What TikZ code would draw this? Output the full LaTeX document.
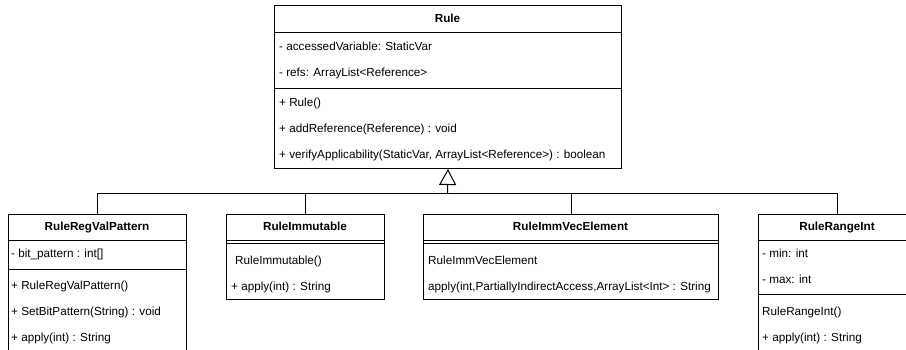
\documentclass[tikz,border=0pt]{standalone}
\usepackage{fontspec}
\setmainfont{Liberation Sans}
\usetikzlibrary{arrows.meta}
\tikzset{
  umlbox/.style={draw=black, line width=1pt, fill=white, inner sep=0pt, anchor=north west},
  hdr/.style={font=\fontsize{11.7}{14}\selectfont\bfseries, inner sep=0pt, text height=8.5pt, text depth=2.5pt},
  member/.style={font=\fontsize{11.7}{14}\selectfont, inner sep=0pt, anchor=west, text height=8.5pt, text depth=2.5pt},
  sep/.style={draw=black, line width=1pt},
  inherit/.style={draw=black, line width=1pt},
}
\begin{document}
\begin{tikzpicture}[x=1pt,y=-1pt]
\useasboundingbox (0,0) rectangle (906,349);
\clip (0,0) rectangle (906,349);

% Rule (superclass)
\node[umlbox, minimum width=347pt, minimum height=163pt] (rule) at (274,5) {};
\node[hdr] (ruleT) at (447.5,19) {Rule};
\draw[sep] (274,32) -- (621,32);
\node[member] (ruleA1) at (279,47) {- accessedVariable: StaticVar};
\node[member] (ruleA2) at (279,73) {- refs: ArrayList<Reference>};
\draw[sep] (274,88) -- (621,88);
\node[member] (ruleM1) at (279,103) {+ Rule()};
\node[member] (ruleM2) at (279,129) {+ addReference(Reference) : void};
\node[member] (ruleM3) at (279,155) {+ verifyApplicability(StaticVar, ArrayList<Reference>) : boolean};

% RuleRegValPattern
\node[umlbox, minimum width=178pt, minimum height=160pt] (rrvp) at (8,214) {};
\node[hdr] (rrvpT) at (97,227) {RuleRegValPattern};
\draw[sep] (8,240) -- (186,240);
\node[member] (rrvpA1) at (11,254) {- bit\_pattern : int[]};
\draw[sep] (8,269) -- (186,269);
\node[member] (rrvpM1) at (11,286) {+ RuleRegValPattern()};
\node[member] (rrvpM2) at (11,312) {+ SetBitPattern(String) : void};
\node[member] (rrvpM3) at (11,338) {+ apply(int) : String};

% RuleImmutable
\node[umlbox, minimum width=158pt, minimum height=85pt] (ri) at (226,214) {};
\node[hdr] (riT) at (305,227) {RuleImmutable};
\draw[sep] (226,240) -- (384,240);
\draw[sep] (226,243.5) -- (384,243.5);
\node[member] (riM1) at (235,261) {RuleImmutable()};
\node[member] (riM2) at (231,287) {+ apply(int) : String};

% RuleImmVecElement
\node[umlbox, minimum width=295pt, minimum height=85pt] (rive) at (423,214) {};
\node[hdr] (riveT) at (570.5,227) {RuleImmVecElement};
\draw[sep] (423,240) -- (718,240);
\draw[sep] (423,243.5) -- (718,243.5);
\node[member] (riveM1) at (428,261) {RuleImmVecElement};
\node[member] (riveM2) at (428,287) {apply(int,PartiallyIndirectAccess,ArrayList<Int> : String};

% RuleRangeInt
\node[umlbox, minimum width=158pt, minimum height=160pt] (rri) at (758,214) {};
\node[hdr] (rriT) at (837,227) {RuleRangeInt};
\draw[sep] (758,240) -- (916,240);
\node[member] (rriA1) at (762,254) {- min: int};
\node[member] (rriA2) at (762,280) {- max: int};
\draw[sep] (758,294) -- (916,294);
\node[member] (rriM1) at (762,312) {RuleRangeInt()};
\node[member] (rriM2) at (762,338) {+ apply(int) : String};

% Generalisation connectors
\coordinate (join) at (447.5,193);
\draw[inherit, -{Triangle[open, length=16pt, width=17pt, line width=1pt]}] (join) -- (rule.south);
\draw[inherit] (rrvp.north) -- (rrvp.north |- join) -- (rri.north |- join) -- (rri.north);
\draw[inherit] (ri.north) -- (ri.north |- join);
\draw[inherit] (rive.north) -- (rive.north |- join);
\end{tikzpicture}
\end{document}
